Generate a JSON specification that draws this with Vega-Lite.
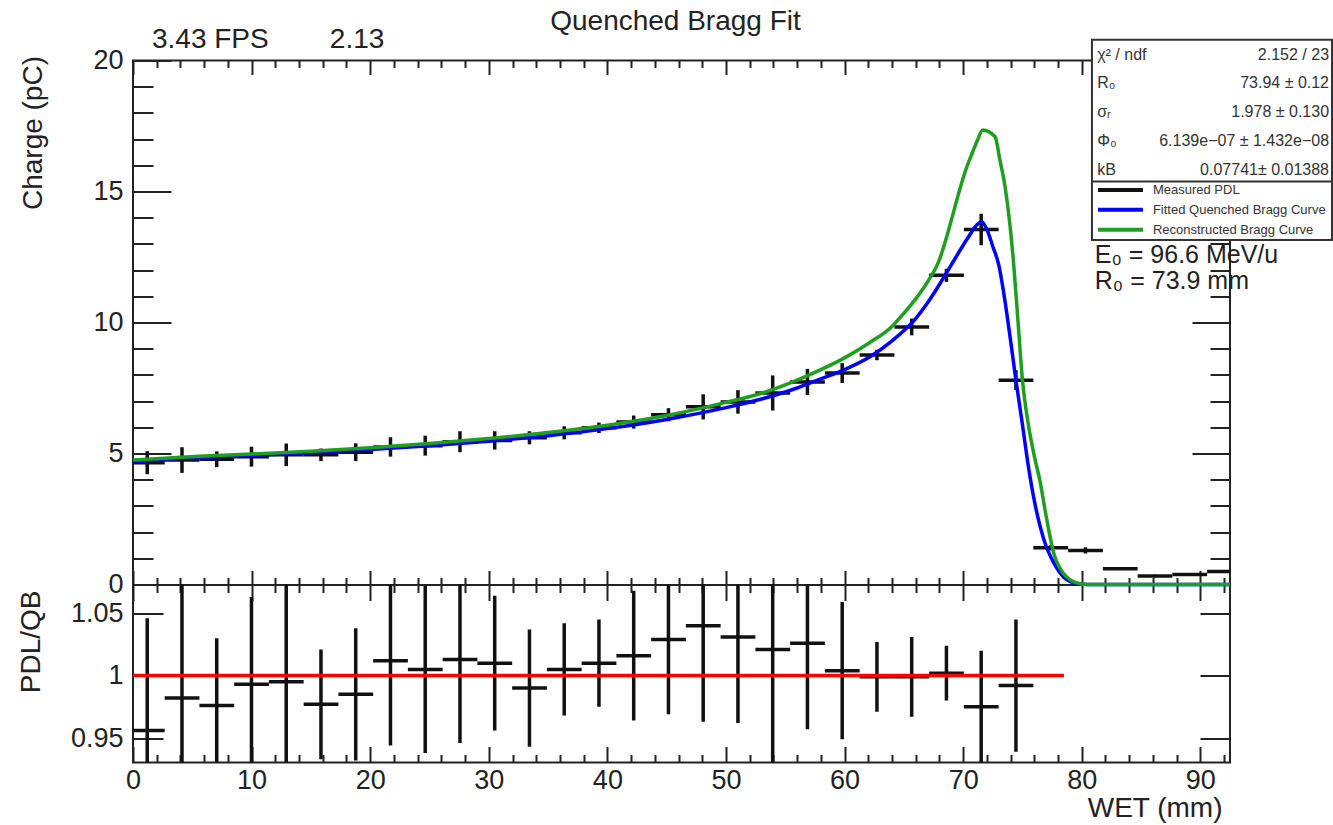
{
  "$schema": "https://vega.github.io/schema/vega-lite/v6.json",
  "width": 1097,
  "height": 702,
  "autosize": {"type": "none"},
  "padding": {"left": 133, "top": 60.5, "right": 103, "bottom": 62.5},
  "background": "white",
  "config": {
    "font": "Liberation Sans",
    "view": {"stroke": "#222", "strokeWidth": 2},
    "axis": {
      "domain": false, "grid": false, "labelFont": "Liberation Sans", "titleFont": "Liberation Sans",
      "tickColor": "#222", "tickWidth": 2, "labelColor": "#222", "labelFontSize": 27,
      "titleFontSize": 28, "titleFontWeight": "normal", "titleColor": "#222",
      "labelFlush": false, "labelOverlap": false
    }
  },
  "title": {"text": "Quenched Bragg Fit", "anchor": "middle", "frame": "group", "fontSize": 28, "fontWeight": "normal", "color": "#222", "font": "Liberation Sans", "offset": 7, "dx": -6, "dy": 17},
  "datasets": {
    "meas": [
      {"x": 1.2, "xlo": -0.27, "xhi": 2.67, "v": 4.65, "lo": 4.21, "hi": 5.09},
      {"x": 4.13, "xlo": 2.67, "xhi": 5.6, "v": 4.75, "lo": 4.26, "hi": 5.24},
      {"x": 7.06, "xlo": 5.6, "xhi": 8.53, "v": 4.78, "lo": 4.48, "hi": 5.08},
      {"x": 9.99, "xlo": 8.53, "xhi": 11.46, "v": 4.88, "lo": 4.5, "hi": 5.26},
      {"x": 12.92, "xlo": 11.46, "xhi": 14.39, "v": 4.95, "lo": 4.52, "hi": 5.38},
      {"x": 15.85, "xlo": 14.39, "xhi": 17.32, "v": 4.95, "lo": 4.71, "hi": 5.19},
      {"x": 18.78, "xlo": 17.32, "xhi": 20.25, "v": 5.05, "lo": 4.71, "hi": 5.39},
      {"x": 21.71, "xlo": 20.25, "xhi": 23.18, "v": 5.25, "lo": 4.88, "hi": 5.62},
      {"x": 24.64, "xlo": 23.18, "xhi": 26.11, "v": 5.3, "lo": 4.92, "hi": 5.68},
      {"x": 27.57, "xlo": 26.11, "xhi": 29.04, "v": 5.45, "lo": 5.05, "hi": 5.85},
      {"x": 30.5, "xlo": 29.04, "xhi": 31.97, "v": 5.5, "lo": 5.15, "hi": 5.85},
      {"x": 33.43, "xlo": 31.97, "xhi": 34.9, "v": 5.6, "lo": 5.35, "hi": 5.85},
      {"x": 36.36, "xlo": 34.9, "xhi": 37.83, "v": 5.79, "lo": 5.54, "hi": 6.04},
      {"x": 39.29, "xlo": 37.83, "xhi": 40.76, "v": 5.98, "lo": 5.78, "hi": 6.18},
      {"x": 42.22, "xlo": 40.76, "xhi": 43.69, "v": 6.2, "lo": 5.95, "hi": 6.45},
      {"x": 45.15, "xlo": 43.69, "xhi": 46.62, "v": 6.48, "lo": 6.23, "hi": 6.73},
      {"x": 48.08, "xlo": 46.62, "xhi": 49.55, "v": 6.78, "lo": 6.3, "hi": 7.26},
      {"x": 51.01, "xlo": 49.55, "xhi": 52.48, "v": 6.97, "lo": 6.52, "hi": 7.42},
      {"x": 53.94, "xlo": 52.48, "xhi": 55.41, "v": 7.31, "lo": 6.64, "hi": 7.98},
      {"x": 56.87, "xlo": 55.41, "xhi": 58.34, "v": 7.73, "lo": 7.23, "hi": 8.23},
      {"x": 59.8, "xlo": 58.34, "xhi": 61.27, "v": 8.07, "lo": 7.69, "hi": 8.45},
      {"x": 62.73, "xlo": 61.27, "xhi": 64.2, "v": 8.76, "lo": 8.56, "hi": 8.96},
      {"x": 65.66, "xlo": 64.2, "xhi": 67.13, "v": 9.83, "lo": 9.51, "hi": 10.15},
      {"x": 68.59, "xlo": 67.13, "xhi": 70.06, "v": 11.8, "lo": 11.55, "hi": 12.05},
      {"x": 71.52, "xlo": 70.06, "xhi": 72.99, "v": 13.55, "lo": 12.95, "hi": 14.15},
      {"x": 74.45, "xlo": 72.99, "xhi": 75.92, "v": 7.8, "lo": 7.42, "hi": 8.18},
      {"x": 77.38, "xlo": 75.92, "xhi": 78.85, "v": 1.4, "lo": 1.3, "hi": 1.5},
      {"x": 80.31, "xlo": 78.85, "xhi": 81.78, "v": 1.3, "lo": 1.18, "hi": 1.42},
      {"x": 83.24, "xlo": 81.78, "xhi": 84.71, "v": 0.6, "lo": 0.55, "hi": 0.65},
      {"x": 86.17, "xlo": 84.71, "xhi": 87.64, "v": 0.32, "lo": 0.27, "hi": 0.37},
      {"x": 89.1, "xlo": 87.64, "xhi": 90.57, "v": 0.38, "lo": 0.33, "hi": 0.43},
      {"x": 92.03, "xlo": 90.57, "xhi": 93.5, "v": 0.5, "lo": 0.45, "hi": 0.55}
    ],
    "ratio": [
      {"x": 1.2, "xlo": -0.27, "xhi": 2.67, "r": 0.956, "lo": 0.866, "hi": 1.046},
      {"x": 4.13, "xlo": 2.67, "xhi": 5.6, "r": 0.982, "lo": 0.872, "hi": 1.092},
      {"x": 7.06, "xlo": 5.6, "xhi": 8.53, "r": 0.976, "lo": 0.922, "hi": 1.03},
      {"x": 9.99, "xlo": 8.53, "xhi": 11.46, "r": 0.993, "lo": 0.923, "hi": 1.063},
      {"x": 12.92, "xlo": 11.46, "xhi": 14.39, "r": 0.995, "lo": 0.895, "hi": 1.095},
      {"x": 15.85, "xlo": 14.39, "xhi": 17.32, "r": 0.977, "lo": 0.933, "hi": 1.021},
      {"x": 18.78, "xlo": 17.32, "xhi": 20.25, "r": 0.985, "lo": 0.932, "hi": 1.038},
      {"x": 21.71, "xlo": 20.25, "xhi": 23.18, "r": 1.012, "lo": 0.944, "hi": 1.08},
      {"x": 24.64, "xlo": 23.18, "xhi": 26.11, "r": 1.005, "lo": 0.938, "hi": 1.072},
      {"x": 27.57, "xlo": 26.11, "xhi": 29.04, "r": 1.013, "lo": 0.946, "hi": 1.08},
      {"x": 30.5, "xlo": 29.04, "xhi": 31.97, "r": 1.01, "lo": 0.956, "hi": 1.064},
      {"x": 33.43, "xlo": 31.97, "xhi": 34.9, "r": 0.99, "lo": 0.943, "hi": 1.037},
      {"x": 36.36, "xlo": 34.9, "xhi": 37.83, "r": 1.005, "lo": 0.968, "hi": 1.042},
      {"x": 39.29, "xlo": 37.83, "xhi": 40.76, "r": 1.01, "lo": 0.975, "hi": 1.045},
      {"x": 42.22, "xlo": 40.76, "xhi": 43.69, "r": 1.016, "lo": 0.964, "hi": 1.068},
      {"x": 45.15, "xlo": 43.69, "xhi": 46.62, "r": 1.029, "lo": 0.969, "hi": 1.089},
      {"x": 48.08, "xlo": 46.62, "xhi": 49.55, "r": 1.04, "lo": 0.963, "hi": 1.117},
      {"x": 51.01, "xlo": 49.55, "xhi": 52.48, "r": 1.031, "lo": 0.962, "hi": 1.1},
      {"x": 53.94, "xlo": 52.48, "xhi": 55.41, "r": 1.021, "lo": 0.921, "hi": 1.121},
      {"x": 56.87, "xlo": 55.41, "xhi": 58.34, "r": 1.026, "lo": 0.957, "hi": 1.095},
      {"x": 59.8, "xlo": 58.34, "xhi": 61.27, "r": 1.004, "lo": 0.949, "hi": 1.059},
      {"x": 62.73, "xlo": 61.27, "xhi": 64.2, "r": 0.999, "lo": 0.971, "hi": 1.027},
      {"x": 65.66, "xlo": 64.2, "xhi": 67.13, "r": 0.999, "lo": 0.967, "hi": 1.031},
      {"x": 68.59, "xlo": 67.13, "xhi": 70.06, "r": 1.002, "lo": 0.98, "hi": 1.024},
      {"x": 71.52, "xlo": 70.06, "xhi": 72.99, "r": 0.975, "lo": 0.92, "hi": 1.02},
      {"x": 74.45, "xlo": 72.99, "xhi": 75.92, "r": 0.992, "lo": 0.939, "hi": 1.045}
    ],
    "blue": [
      {"x": 0, "y": 4.68}, {"x": 3, "y": 4.78}, {"x": 6, "y": 4.85}, {"x": 10, "y": 4.93},
      {"x": 15, "y": 5.03}, {"x": 20, "y": 5.15}, {"x": 25, "y": 5.3}, {"x": 30, "y": 5.47},
      {"x": 35, "y": 5.68}, {"x": 40, "y": 5.95}, {"x": 45, "y": 6.3}, {"x": 50, "y": 6.75},
      {"x": 53, "y": 7.08}, {"x": 56, "y": 7.5}, {"x": 58, "y": 7.85}, {"x": 60, "y": 8.2},
      {"x": 62, "y": 8.65}, {"x": 64, "y": 9.3}, {"x": 66, "y": 10.15}, {"x": 67, "y": 10.75},
      {"x": 68, "y": 11.45}, {"x": 69, "y": 12.2}, {"x": 70, "y": 12.95}, {"x": 70.5, "y": 13.3},
      {"x": 71, "y": 13.65}, {"x": 71.56, "y": 13.85}, {"x": 72, "y": 13.55}, {"x": 72.5, "y": 12.9},
      {"x": 73, "y": 12.2}, {"x": 73.5, "y": 10.9}, {"x": 74, "y": 9.3}, {"x": 74.45, "y": 7.8},
      {"x": 75, "y": 6.1}, {"x": 75.5, "y": 4.5}, {"x": 76, "y": 3.2}, {"x": 76.5, "y": 2.2},
      {"x": 77, "y": 1.45}, {"x": 77.5, "y": 0.95}, {"x": 78, "y": 0.55}, {"x": 78.5, "y": 0.27},
      {"x": 79, "y": 0.12}, {"x": 79.5, "y": 0.04}, {"x": 80, "y": 0.01}, {"x": 81, "y": 0},
      {"x": 92.5, "y": 0}
    ],
    "green": [
      {"x": 0, "y": 4.75}, {"x": 3, "y": 4.83}, {"x": 6, "y": 4.9}, {"x": 10, "y": 4.98},
      {"x": 15, "y": 5.09}, {"x": 20, "y": 5.22}, {"x": 25, "y": 5.38}, {"x": 30, "y": 5.57},
      {"x": 35, "y": 5.8}, {"x": 40, "y": 6.08}, {"x": 45, "y": 6.45}, {"x": 50, "y": 6.95},
      {"x": 53, "y": 7.3}, {"x": 56, "y": 7.8}, {"x": 58, "y": 8.2}, {"x": 60, "y": 8.65},
      {"x": 62, "y": 9.2}, {"x": 64, "y": 9.85}, {"x": 65, "y": 10.35}, {"x": 66, "y": 10.9},
      {"x": 67, "y": 11.55}, {"x": 68, "y": 12.4}, {"x": 68.5, "y": 13.1}, {"x": 69, "y": 13.9},
      {"x": 69.7, "y": 15.06}, {"x": 70.2, "y": 15.8}, {"x": 70.7, "y": 16.4}, {"x": 71.2, "y": 16.95},
      {"x": 71.64, "y": 17.35}, {"x": 72.68, "y": 17.1}, {"x": 73.1, "y": 16.2}, {"x": 73.53, "y": 15.19},
      {"x": 74.23, "y": 12.39}, {"x": 74.6, "y": 10.2}, {"x": 75, "y": 7.8}, {"x": 75.5, "y": 6.1},
      {"x": 76, "y": 4.9}, {"x": 76.5, "y": 3.9}, {"x": 77, "y": 2.6}, {"x": 77.7, "y": 1.1},
      {"x": 78.2, "y": 0.6}, {"x": 78.7, "y": 0.3}, {"x": 79.2, "y": 0.13}, {"x": 79.7, "y": 0.05},
      {"x": 80.2, "y": 0.01}, {"x": 81, "y": 0}, {"x": 92.5, "y": 0}
    ]
  },
  "layer": [
    {
      "layer": [
        {
          "data": {"name": "meas"},
          "mark": {"type": "rule", "color": "#111", "strokeWidth": 3.5, "clip": true},
          "encoding": {
            "x": {"field": "x", "type": "quantitative", "scale": {"domain": [0, 92.5], "nice": false, "zero": false},
              "axis": {"orient": "bottom", "offset": -178, "domain": true, "domainColor": "#222", "domainWidth": 2,
                "values": [0,2,4,6,8,10,12,14,16,18,20,22,24,26,28,30,32,34,36,38,40,42,44,46,48,50,52,54,56,58,60,62,64,66,68,70,72,74,76,78,80,82,84,86,88,90,92],
                "tickSize": {"condition": {"test": "datum.value % 10 === 0", "value": -14}, "value": -7},
                "labels": false, "title": null}},
            "y": {"field": "lo", "type": "quantitative", "scale": {"domain": [0, 20], "range": [524, 0], "nice": false, "zero": false},
              "axis": {"orient": "left",
                "values": [0,1,2,3,4,5,6,7,8,9,10,11,12,13,14,15,16,17,18,19,20],
                "tickSize": {"condition": {"test": "datum.value % 5 === 0", "value": -38}, "value": -20},
                "labelExpr": "datum.value % 5 === 0 ? datum.label : ''", "labelPadding": 48,
                "title": "Charge (pC)", "titleAngle": -90, "titleX": -100, "titleY": -5, "titleAlign": "right", "titleBaseline": "middle"}},
            "y2": {"field": "hi"}
          }
        },
        {
          "data": {"name": "meas"},
          "mark": {"type": "rule", "color": "#111", "strokeWidth": 3.5, "clip": true},
          "encoding": {
            "x": {"field": "xlo", "type": "quantitative",
              "axis": {"orient": "top",
                "values": [0,2,4,6,8,10,12,14,16,18,20,22,24,26,28,30,32,34,36,38,40,42,44,46,48,50,52,54,56,58,60,62,64,66,68,70,72,74,76,78,80,82,84,86,88,90,92],
                "tickSize": {"condition": {"test": "datum.value % 10 === 0", "value": -14}, "value": -7},
                "labels": false, "title": null}},
            "x2": {"field": "xhi"},
            "y": {"field": "v", "type": "quantitative",
              "axis": {"orient": "right",
                "values": [0,1,2,3,4,5,6,7,8,9,10,11,12,13,14,15,16,17,18,19,20],
                "tickSize": {"condition": {"test": "datum.value % 5 === 0", "value": -38}, "value": -20},
                "labels": false, "title": null}}
          }
        },
        {
          "data": {"name": "blue"},
          "mark": {"type": "line", "color": "#0000ff", "strokeWidth": 3.5, "interpolate": "monotone", "clip": true},
          "encoding": {
            "x": {"field": "x", "type": "quantitative", "axis": null},
            "y": {"field": "y", "type": "quantitative", "axis": null}
          }
        },
        {
          "data": {"name": "green"},
          "mark": {"type": "line", "color": "#1f9f1f", "strokeWidth": 3.5, "interpolate": "monotone", "clip": true},
          "encoding": {
            "x": {"field": "x", "type": "quantitative", "axis": null},
            "y": {"field": "y", "type": "quantitative", "axis": null}
          }
        },
        {
          "data": {"values": [{}]},
          "mark": {"type": "text", "text": "3.43 FPS", "align": "left", "baseline": "middle", "fontSize": 28, "color": "#222"},
          "encoding": {"x": {"datum": 1.6, "type": "quantitative", "axis": null}, "y": {"datum": 20.79, "type": "quantitative", "axis": null}}
        },
        {
          "data": {"values": [{}]},
          "mark": {"type": "text", "text": "2.13", "align": "left", "baseline": "middle", "fontSize": 28, "color": "#222"},
          "encoding": {"x": {"datum": 16.6, "type": "quantitative", "axis": null}, "y": {"datum": 20.79, "type": "quantitative", "axis": null}}
        },
        {
          "data": {"values": [{}]},
          "mark": {"type": "rect", "fill": "white", "stroke": "#333", "strokeWidth": 2},
          "encoding": {
            "x": {"datum": 80.86, "type": "quantitative", "axis": null}, "x2": {"datum": 101.1},
            "y": {"datum": 20.79, "type": "quantitative", "axis": null}, "y2": {"datum": 13.15}
          }
        },
        {
          "data": {"values": [{}]},
          "mark": {"type": "rule", "stroke": "#333", "strokeWidth": 2},
          "encoding": {
            "x": {"datum": 80.86, "type": "quantitative", "axis": null}, "x2": {"datum": 101.1},
            "y": {"datum": 15.38, "type": "quantitative", "axis": null}
          }
        },
        {
          "data": {"values": [{}]},
          "mark": {"type": "text", "text": ["χ² / ndf", "R₀", "σᵣ", "Φ₀", "kB"], "lineHeight": 28.7, "align": "left", "baseline": "middle", "fontSize": 16, "color": "#333"},
          "encoding": {"x": {"datum": 81.3, "type": "quantitative", "axis": null}, "y": {"datum": 20.22, "type": "quantitative", "axis": null}}
        },
        {
          "data": {"values": [{}]},
          "mark": {"type": "text", "text": ["2.152 / 23", "73.94 ± 0.12", "1.978 ± 0.130", "6.139e−07 ± 1.432e−08", "0.07741± 0.01388"], "lineHeight": 28.7, "align": "right", "baseline": "middle", "fontSize": 16, "color": "#333"},
          "encoding": {"x": {"datum": 100.85, "type": "quantitative", "axis": null}, "y": {"datum": 20.22, "type": "quantitative", "axis": null}}
        },
        {
          "data": {"values": [{}]},
          "mark": {"type": "rule", "stroke": "#111", "strokeWidth": 4},
          "encoding": {"x": {"datum": 81.37, "type": "quantitative", "axis": null}, "x2": {"datum": 85.16}, "y": {"datum": 15.06, "type": "quantitative", "axis": null}}
        },
        {
          "data": {"values": [{}]},
          "mark": {"type": "rule", "stroke": "#0000ff", "strokeWidth": 4},
          "encoding": {"x": {"datum": 81.37, "type": "quantitative", "axis": null}, "x2": {"datum": 85.16}, "y": {"datum": 14.3, "type": "quantitative", "axis": null}}
        },
        {
          "data": {"values": [{}]},
          "mark": {"type": "rule", "stroke": "#1f9f1f", "strokeWidth": 4},
          "encoding": {"x": {"datum": 81.37, "type": "quantitative", "axis": null}, "x2": {"datum": 85.16}, "y": {"datum": 13.54, "type": "quantitative", "axis": null}}
        },
        {
          "data": {"values": [{}]},
          "mark": {"type": "text", "text": ["Measured PDL", "Fitted Quenched Bragg Curve", "Reconstructed Bragg Curve"], "lineHeight": 20, "align": "left", "baseline": "middle", "fontSize": 13, "color": "#333"},
          "encoding": {"x": {"datum": 86.0, "type": "quantitative", "axis": null}, "y": {"datum": 15.06, "type": "quantitative", "axis": null}}
        },
        {
          "data": {"values": [{}]},
          "mark": {"type": "text", "text": ["E₀ = 96.6 MeV/u", "R₀ = 73.9 mm"], "lineHeight": 26, "align": "left", "baseline": "middle", "fontSize": 25, "color": "#222"},
          "encoding": {"x": {"datum": 81.1, "type": "quantitative", "axis": null}, "y": {"datum": 12.58, "type": "quantitative", "axis": null}}
        }
      ],
      "resolve": {"axis": {"x": "independent", "y": "independent"}}
    },
    {
      "layer": [
        {
          "data": {"name": "ratio"},
          "mark": {"type": "rule", "color": "#111", "strokeWidth": 3.5, "clip": true},
          "encoding": {
            "x": {"field": "x", "type": "quantitative", "scale": {"domain": [0, 92.5], "nice": false, "zero": false},
              "axis": {"orient": "bottom",
                "values": [0,2,4,6,8,10,12,14,16,18,20,22,24,26,28,30,32,34,36,38,40,42,44,46,48,50,52,54,56,58,60,62,64,66,68,70,72,74,76,78,80,82,84,86,88,90,92],
                "tickSize": {"condition": {"test": "datum.value % 10 === 0", "value": -16}, "value": -8},
                "labelExpr": "datum.value % 10 === 0 ? datum.label : ''", "labelPadding": 21,
                "title": "WET (mm)", "titleX": 1089, "titleY": 46, "titleAlign": "right", "titleBaseline": "middle", "titleAngle": 0}},
            "y": {"field": "lo", "type": "quantitative", "scale": {"domain": [0.9304, 1.073], "range": [702, 524], "nice": false, "zero": false, "clamp": true},
              "axis": {"orient": "left", "values": [0.95, 1, 1.05], "tickSize": -30, "labelPadding": 40,
                "labelExpr": "format(datum.value, '~g')",
                "title": "PDL/QB", "titleAngle": -90, "titleX": -102, "titleY": 529.5, "titleAlign": "right", "titleBaseline": "middle"}},
            "y2": {"field": "hi"}
          }
        },
        {
          "data": {"name": "ratio"},
          "mark": {"type": "rule", "color": "#111", "strokeWidth": 3.5, "clip": true},
          "encoding": {
            "x": {"field": "xlo", "type": "quantitative",
              "axis": {"orient": "top", "offset": -524,
                "values": [0,2,4,6,8,10,12,14,16,18,20,22,24,26,28,30,32,34,36,38,40,42,44,46,48,50,52,54,56,58,60,62,64,66,68,70,72,74,76,78,80,82,84,86,88,90,92],
                "tickSize": {"condition": {"test": "datum.value % 10 === 0", "value": -16}, "value": -8},
                "labels": false, "title": null}},
            "x2": {"field": "xhi"},
            "y": {"field": "r", "type": "quantitative",
              "axis": {"orient": "right", "values": [0.95, 1, 1.05], "tickSize": -30, "labels": false, "title": null}}
          }
        },
        {
          "data": {"values": [{}]},
          "mark": {"type": "rule", "color": "#ff0000", "strokeWidth": 3.5},
          "encoding": {
            "x": {"datum": 0, "type": "quantitative", "axis": null}, "x2": {"datum": 78.5},
            "y": {"datum": 1, "type": "quantitative", "axis": null}
          }
        }
      ],
      "resolve": {"axis": {"x": "independent", "y": "independent"}}
    }
  ],
  "resolve": {"scale": {"y": "independent"}, "axis": {"x": "independent", "y": "independent"}}
}
